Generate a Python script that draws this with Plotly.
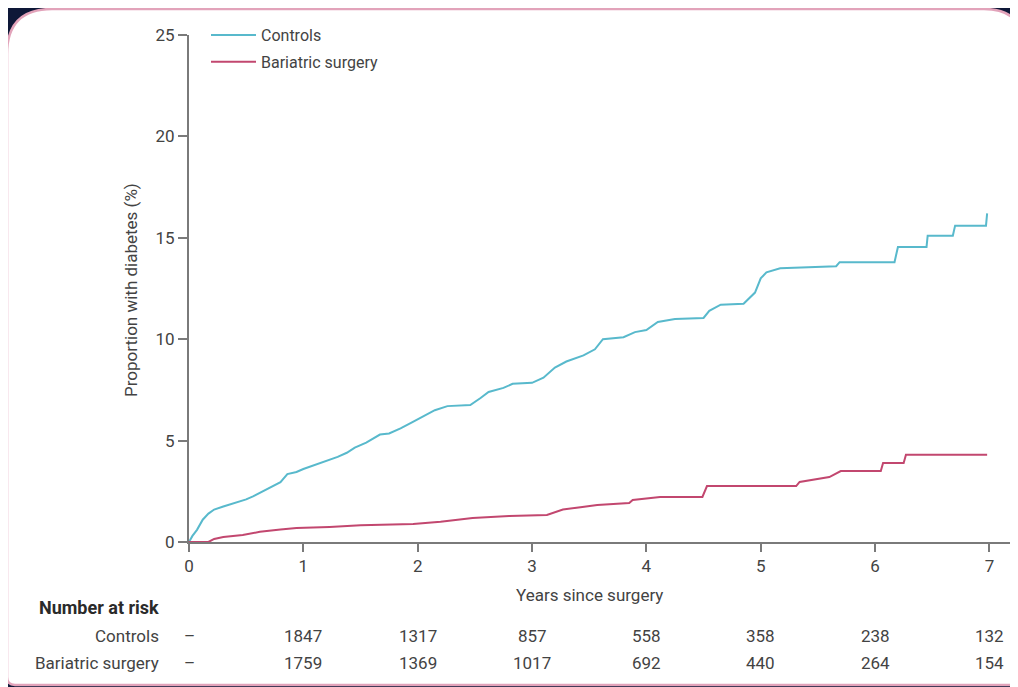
import plotly.graph_objects as go

# ---------------- data ----------------
controls_t = [0, 0.03, 0.07, 0.12, 0.17, 0.22, 0.30, 0.42, 0.50, 0.56, 0.65, 0.71, 0.80, 0.86, 0.94,
              1.00, 1.10, 1.20, 1.30, 1.38, 1.45, 1.55, 1.67, 1.75, 1.85, 1.95, 2.08, 2.15, 2.26,
              2.46, 2.55, 2.62, 2.75, 2.83, 3.00, 3.10, 3.20, 3.30, 3.45, 3.55, 3.62, 3.80, 3.90,
              4.00, 4.10, 4.25, 4.50, 4.55, 4.65, 4.85, 4.95, 5.00, 5.05, 5.17, 5.66, 5.69, 6.17,
              6.20, 6.45, 6.46, 6.68, 6.70, 6.97, 6.98]
controls_y = [0, 0.3, 0.6, 1.1, 1.4, 1.6, 1.75, 1.95, 2.1, 2.25, 2.5, 2.7, 2.95, 3.35, 3.45,
              3.6, 3.8, 4.0, 4.2, 4.4, 4.65, 4.9, 5.3, 5.35, 5.6, 5.9, 6.3, 6.5, 6.7,
              6.75, 7.1, 7.4, 7.6, 7.8, 7.85, 8.1, 8.6, 8.9, 9.2, 9.5, 10.0, 10.1, 10.35,
              10.45, 10.85, 11.0, 11.05, 11.4, 11.7, 11.75, 12.3, 13.0, 13.3, 13.5, 13.6, 13.8, 13.8,
              14.55, 14.55, 15.1, 15.1, 15.6, 15.6, 16.2]

bariatric_t = [0, 0.17, 0.22, 0.30, 0.47, 0.62, 0.80, 0.94, 1.23, 1.50, 1.96, 2.20, 2.48, 2.80,
               3.13, 3.27, 3.44, 3.57, 3.85, 3.88, 4.12, 4.49, 4.53, 5.31, 5.34, 5.60, 5.70,
               6.05, 6.07, 6.25, 6.27, 6.98]
bariatric_y = [0, 0, 0.15, 0.25, 0.35, 0.5, 0.62, 0.69, 0.74, 0.82, 0.89, 1.0, 1.18, 1.28,
               1.33, 1.6, 1.73, 1.82, 1.92, 2.07, 2.22, 2.22, 2.76, 2.76, 2.96, 3.2, 3.5,
               3.5, 3.9, 3.9, 4.3, 4.3]

risk_years = [0, 1, 2, 3, 4, 5, 6, 7]
risk_controls = ["–", "1847", "1317", "857", "558", "358", "238", "132"]
risk_bariatric = ["–", "1759", "1369", "1017", "692", "440", "264", "154"]

x_ticks = [0, 1, 2, 3, 4, 5, 6, 7]
y_ticks = [0, 5, 10, 15, 20, 25]

# ---------------- layout geometry ----------------
OFF = 8                      # page offset of the figure inside the window
W, H = 1010, 679
ML, MR, MT, MB = 181, 8, 27, 145
PW, PH = W - ML - MR, H - MT - MB

def px_x(p):
    return (p - OFF - ML) / PW

def px_y(p):
    return (H - MB - (p - OFF)) / PH

FONT = "Roboto"
TXT = "#434343"
C_CTRL = "#58b9cc"
C_BAR = "#c2476f"
FS = 17

fig = go.Figure()
fig.add_trace(go.Scatter(x=controls_t, y=controls_y, mode="lines", name="Controls",
                         line=dict(color=C_CTRL, width=2, shape="linear"), legendgroup="a"))
fig.add_trace(go.Scatter(x=bariatric_t, y=bariatric_y, mode="lines", name="Bariatric surgery",
                         line=dict(color=C_BAR, width=2, shape="linear"), legendgroup="b"))

# panel (rounded white card)
l, r, t, b = px_x(7), px_x(1024), px_y(9), px_y(685)
rx1, ry1 = 45 / PW, 45 / PH
rx2, ry2 = 40 / PW, 40 / PH
rx3, ry3 = 8 / PW, 8 / PH
path = (f"M{l},{t - ry1} Q{l},{t} {l + rx1},{t} L{r - rx2},{t} Q{r},{t} {r},{t - ry2} "
        f"L{r},{b + ry3} Q{r},{b} {r - rx3},{b} L{l + rx3},{b} Q{l},{b} {l},{b + ry3} Z")
fig.add_shape(type="path", path=path, xref="paper", yref="paper",
              fillcolor="white", line=dict(color="#e2a3ba", width=2.5), layer="below")


def note(text, x, y, xref="paper", xanchor="center", size=FS, color=TXT, angle=0):
    return dict(text=text, x=x, xref=xref, y=y, yref="paper", xanchor=xanchor,
                yanchor="middle", textangle=angle, showarrow=False,
                font=dict(family=FONT, size=size, color=color))


annotations = [
    note("Years since surgery", 3.5, px_y(595), xref="x"),
    note("Proportion with diabetes (%)", px_x(131), px_y(290), angle=-90),
    note("<b>Number at risk</b>", px_x(161), px_y(607), xanchor="right", size=18, color="#2a2a2a"),
    note("Controls", px_x(161), px_y(636), xanchor="right"),
    note("Bariatric surgery", px_x(161), px_y(663), xanchor="right"),
]
for yr, c, bsr in zip(risk_years, risk_controls, risk_bariatric):
    annotations.append(note(c, yr, px_y(636), xref="x"))
    annotations.append(note(bsr, yr, px_y(663), xref="x"))

fig.update_layout(
    width=W, height=H,
    margin=dict(l=ML, r=MR, t=MT, b=MB),
    paper_bgcolor="#0e1838",
    plot_bgcolor="rgba(0,0,0,0)",
    font=dict(family=FONT, size=FS, color=TXT),
    showlegend=True,
    legend=dict(x=px_x(206), y=px_y(18), xanchor="left", yanchor="top",
                bgcolor="rgba(0,0,0,0)", itemwidth=45, tracegroupgap=3,
                font=dict(family=FONT, size=16, color=TXT)),
    annotations=annotations,
    xaxis=dict(range=[0, 7.18], tickvals=x_ticks, showline=True, linecolor="#7a7a7a",
               linewidth=2, ticks="outside", ticklen=8, tickcolor="#7a7a7a", tickwidth=1.5,
               showgrid=False, zeroline=False, tickfont=dict(size=FS, color=TXT)),
    yaxis=dict(range=[0, 25], tickvals=y_ticks, showline=True, linecolor="#7a7a7a",
               linewidth=2, ticks="outside", ticklen=9, tickcolor="#7a7a7a", tickwidth=1.5,
               showgrid=False, zeroline=False, tickfont=dict(size=FS, color=TXT)),
)

fig.write_html("out.html")
